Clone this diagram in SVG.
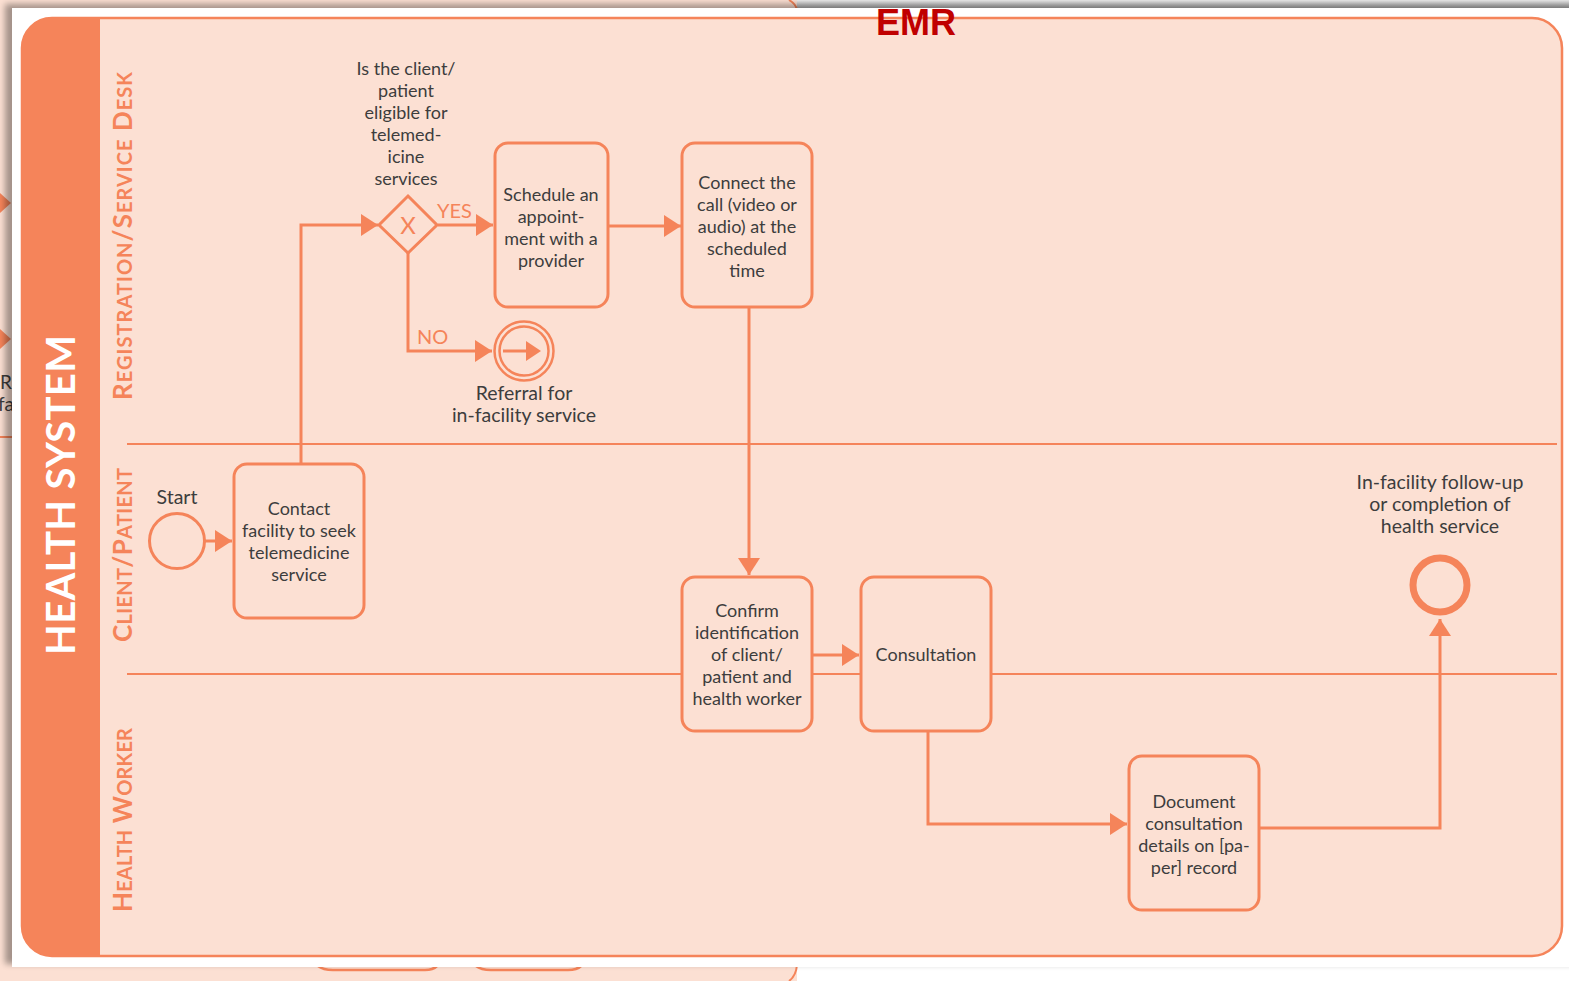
<svg xmlns="http://www.w3.org/2000/svg" width="1569" height="981" viewBox="0 0 1569 981">
<defs>
<style>
.box{fill:#fce0d3;stroke:#f5845a;stroke-width:3}
.con{fill:none;stroke:#f5845a;stroke-width:3}
.t{font-family:Lato,"Open Sans","Liberation Sans",sans-serif;font-size:18px;fill:#3d3d3d;text-anchor:middle}
.tl{font-family:Lato,"Open Sans","Liberation Sans",sans-serif;font-size:19.5px;fill:#3d3d3d;text-anchor:middle}
.lbl{font-family:Lato,"Open Sans","Liberation Sans",sans-serif;font-size:20px;fill:#f5845a}
.lane{font-family:Lato,"Open Sans","Liberation Sans",sans-serif;font-weight:bold;fill:#f5845a;text-anchor:middle}
.big{font-size:26px}
.sm{font-size:20px}
</style>
<marker id="ah" markerWidth="17" markerHeight="22" refX="17" refY="11" orient="auto" markerUnits="userSpaceOnUse"><path d="M0,0 L17,11 L0,22 Z" fill="#f5845a"/></marker>
<linearGradient id="topg" x1="0" y1="0" x2="0" y2="1"><stop offset="0" stop-color="#eeeeee"/><stop offset="1" stop-color="#a8a8a8"/></linearGradient>
<filter id="sh" x="-5%" y="-5%" width="110%" height="110%"><feGaussianBlur stdDeviation="3"/></filter>
</defs>

<g id="background">
<rect x="0" y="0" width="1569" height="981" fill="#fce0d3"/>
<rect x="797" y="0" width="772" height="10" fill="url(#topg)"/>
<rect x="797" y="962" width="772" height="19" fill="#ffffff"/>
<path d="M789,0 Q796,4 797,10" fill="none" stroke="#f5845a" stroke-width="2"/>
<path d="M797,965 Q796,976 789,981" fill="none" stroke="#f5845a" stroke-width="2"/>
<path d="M318,966 Q323,970 333,970 H425 Q433,970 437,966" fill="none" stroke="#f5845a" stroke-width="2.5"/>
<path d="M476,966 Q481,970 491,970 H568 Q577,970 581,966" fill="none" stroke="#f5845a" stroke-width="2.5"/>
<path d="M0,193 L11,203 L0,213 Z" fill="#f5845a"/>
<path d="M0,329 L11,339 L0,349 Z" fill="#f5845a"/>
<text x="0" y="389" font-family="Lato,'Liberation Sans',sans-serif" font-size="19" fill="#3d3d3d">R</text>
<text x="-2" y="411" font-family="Lato,'Liberation Sans',sans-serif" font-size="19" fill="#3d3d3d">fa</text>
<line x1="0" y1="437" x2="12" y2="437" stroke="#f5845a" stroke-width="2"/>
<rect x="5" y="4" width="1570" height="960" fill="#000000" opacity="0.35" filter="url(#sh)"/>
<rect x="12" y="8" width="1557" height="959" fill="#ffffff"/>
</g>

<g id="pool">
<rect x="22" y="18" width="1540" height="938" rx="30" fill="#fce0d3" stroke="#f5845a" stroke-width="2.5"/>
<path d="M52,18 H100 V956 H52 A30,30 0 0 1 22,926 V48 A30,30 0 0 1 52,18 Z" fill="#f5845a"/>
<line x1="127" y1="444" x2="1557" y2="444" stroke="#f5845a" stroke-width="2"/>
<line x1="127" y1="674" x2="1557" y2="674" stroke="#f5845a" stroke-width="2"/>
<text transform="translate(75,495) rotate(-90)" font-family="Lato,'Open Sans','Liberation Sans',sans-serif" font-size="40" font-weight="bold" fill="#ffffff" text-anchor="middle" textLength="320" lengthAdjust="spacing">HEALTH SYSTEM</text>
<text class="lane" transform="translate(132,236) rotate(-90)" textLength="328" lengthAdjust="spacing"><tspan class="big">R</tspan><tspan class="sm">EGISTRATION</tspan><tspan class="big">/S</tspan><tspan class="sm">ERVICE</tspan><tspan class="big"> D</tspan><tspan class="sm">ESK</tspan></text>
<text class="lane" transform="translate(132,555) rotate(-90)" textLength="174" lengthAdjust="spacing"><tspan class="big">C</tspan><tspan class="sm">LIENT</tspan><tspan class="big">/P</tspan><tspan class="sm">ATIENT</tspan></text>
<text class="lane" transform="translate(132,820) rotate(-90)" textLength="184" lengthAdjust="spacing"><tspan class="big">H</tspan><tspan class="sm">EALTH</tspan><tspan class="big"> W</tspan><tspan class="sm">ORKER</tspan></text>
</g>

<text id="emr" x="916" y="35" font-family="'Liberation Sans',Arial,sans-serif" font-size="36" font-weight="bold" fill="#c00000" text-anchor="middle" textLength="80" lengthAdjust="spacingAndGlyphs">EMR</text>

<g id="connectors">
<path class="con" d="M205,541 H232" marker-end="url(#ah)"/>
<path class="con" d="M301,463 V225 H378" marker-end="url(#ah)"/>
<path class="con" d="M438,225 H493" marker-end="url(#ah)"/>
<path class="con" d="M408,253 V351 H492" marker-end="url(#ah)"/>
<path class="con" d="M609,226 H681" marker-end="url(#ah)"/>
<path class="con" d="M749,308 V575" marker-end="url(#ah)"/>
<path class="con" d="M813,655 H859" marker-end="url(#ah)"/>
<path class="con" d="M928,732 V824 H1127" marker-end="url(#ah)"/>
<path class="con" d="M1260,828 H1440 V619" marker-end="url(#ah)"/>
<text class="lbl" x="437" y="218">YES</text>
<text class="lbl" x="417" y="344">NO</text>
</g>

<g id="start">
<circle cx="177" cy="541" r="27.5" fill="none" stroke="#f5845a" stroke-width="3"/>
<text class="tl" x="177" y="504">Start</text>
</g>

<g id="contact">
<rect class="box" x="234" y="464" width="130" height="154" rx="13"/>
<text class="t" x="299" y="515">Contact</text>
<text class="t" x="299" y="537">facility to seek</text>
<text class="t" x="299" y="559">telemedicine</text>
<text class="t" x="299" y="581">service</text>
</g>

<g id="gateway">
<path d="M408,196 L437,225 L408,253 L379,225 Z" fill="#fce0d3" stroke="#f5845a" stroke-width="3"/>
<text x="408" y="234" font-family="Lato,'Liberation Sans',sans-serif" font-size="24" fill="#f5845a" text-anchor="middle">X</text>
<text class="t" x="406" y="75">Is the client/</text>
<text class="t" x="406" y="97">patient</text>
<text class="t" x="406" y="119">eligible for</text>
<text class="t" x="406" y="141">telemed-</text>
<text class="t" x="406" y="163">icine</text>
<text class="t" x="406" y="185">services</text>
</g>

<g id="referral">
<circle cx="524" cy="351" r="29.5" fill="none" stroke="#f5845a" stroke-width="2.5"/>
<circle cx="524" cy="351" r="24.5" fill="none" stroke="#f5845a" stroke-width="2.5"/>
<path d="M503,351 H528" stroke="#f5845a" stroke-width="3"/>
<path d="M526,341 L541,351 L526,361 Z" fill="#f5845a"/>
<text class="tl" x="524" y="400">Referral for</text>
<text class="tl" x="524" y="422">in-facility service</text>
</g>

<g id="schedule">
<rect class="box" x="495" y="143" width="113" height="164" rx="13"/>
<text class="t" x="551" y="201">Schedule an</text>
<text class="t" x="551" y="223">appoint-</text>
<text class="t" x="551" y="245">ment with a</text>
<text class="t" x="551" y="267">provider</text>
</g>

<g id="connect">
<rect class="box" x="682" y="143" width="130" height="164" rx="13"/>
<text class="t" x="747" y="189">Connect the</text>
<text class="t" x="747" y="211">call (video or</text>
<text class="t" x="747" y="233">audio) at the</text>
<text class="t" x="747" y="255">scheduled</text>
<text class="t" x="747" y="277">time</text>
</g>

<g id="confirm">
<rect class="box" x="682" y="577" width="130" height="154" rx="13"/>
<text class="t" x="747" y="617">Confirm</text>
<text class="t" x="747" y="639">identification</text>
<text class="t" x="747" y="661">of client/</text>
<text class="t" x="747" y="683">patient and</text>
<text class="t" x="747" y="705">health worker</text>
</g>

<g id="consultation">
<rect class="box" x="861" y="577" width="130" height="154" rx="13"/>
<text class="t" x="926" y="661">Consultation</text>
</g>

<g id="document">
<rect class="box" x="1129" y="756" width="130" height="154" rx="13"/>
<text class="t" x="1194" y="808">Document</text>
<text class="t" x="1194" y="830">consultation</text>
<text class="t" x="1194" y="852">details on [pa-</text>
<text class="t" x="1194" y="874">per] record</text>
</g>

<g id="end">
<circle cx="1440" cy="585" r="27" fill="none" stroke="#f5845a" stroke-width="7"/>
<text class="tl" x="1440" y="489">In-facility follow-up</text>
<text class="tl" x="1440" y="511">or completion of</text>
<text class="tl" x="1440" y="533">health service</text>
</g>
</svg>
